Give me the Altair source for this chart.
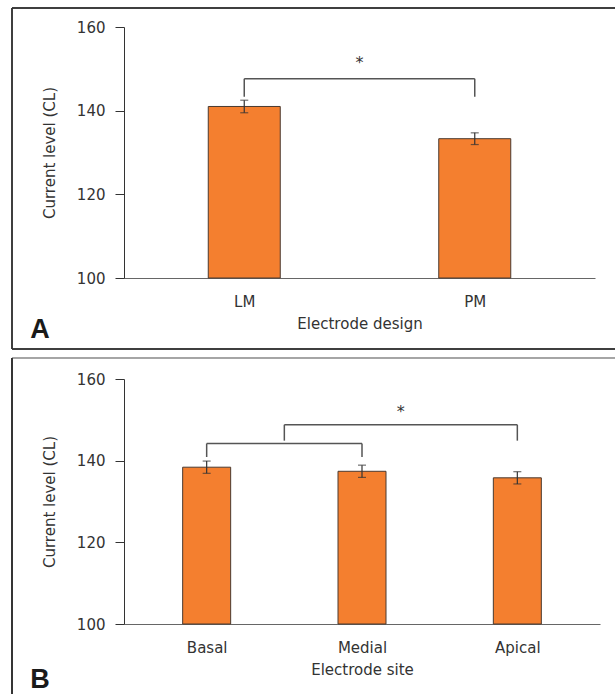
import altair as alt
import pandas as pd

# ---------------- data ----------------
A_labels = ["LM", "PM"]
A_means = [141.0, 133.3]
A_err = [1.5, 1.4]
A_br_x = [1.0, 2.0]          # bracket ends (category positions)
A_br_y = 147.6               # bracket top
A_br_leg = [143.3, 143.3]    # bracket leg bottoms
A_star = [1.5, 151.4]

B_labels = ["Basal", "Medial", "Apical"]
B_means = [138.4, 137.4, 135.8]
B_err = [1.5, 1.5, 1.5]
B_br1_x = [1.0, 2.0]
B_br1_y = 144.2
B_br1_leg = [140.9, 140.9]
B_br2_x = [1.5, 3.0]
B_br2_y = 148.8
B_br2_leg = [144.9, 144.9]
B_star = [2.25, 151.8]

Y_TICKS = [100, 120, 140, 160]

FONT = "DejaVu Sans"
TXT = "#333333"
ORANGE = "#F47F2F"


def make_panel(labels, means, errs, brackets, star, width, height, bar_size,
               letter, letter_y, xtitle, frame_top, frame_bottom, frame_color, frame_w):
    n = len(labels)
    bars = pd.DataFrame({
        "pos": list(range(1, n + 1)),
        "mean": means,
        "lo": [m - e for m, e in zip(means, errs)],
        "hi": [m + e for m, e in zip(means, errs)],
    })
    horiz = pd.DataFrame([{"x": b[0][0], "x2": b[0][1], "y": b[1]} for b in brackets])
    legs = pd.DataFrame([{"x": xv, "y": b[1], "y2": lb}
                         for b in brackets for xv, lb in zip(b[0], b[2])])
    star_df = pd.DataFrame({"x": [star[0]], "y": [star[1]], "t": ["*"]})

    arr = "[" + ",".join("'" + l + "'" for l in labels) + "]"
    xscale = alt.Scale(domain=[0.5, n + 0.5], nice=False, zero=False)
    yscale = alt.Scale(domain=[100, 160], nice=False, zero=False)
    xaxis = alt.Axis(values=list(range(1, n + 1)), labelExpr=arr + "[datum.value-1]",
                     ticks=False, grid=False, title=xtitle, labelPadding=16,
                     titlePadding=7, domainColor="#666666", domainWidth=1.2)
    yaxis = alt.Axis(values=Y_TICKS, grid=False, title="Current level (CL)",
                     tickSize=9, labelPadding=10, titlePadding=19,
                     domainColor="#333333", tickColor="#333333")

    base = alt.Chart(bars)
    bar = base.mark_bar(size=bar_size, color=ORANGE, stroke="#4a3a30", strokeWidth=1).encode(
        x=alt.X("pos:Q", scale=xscale, axis=xaxis),
        y=alt.Y("mean:Q", scale=yscale, axis=yaxis),
        y2=alt.datum(100),
    )
    err = base.mark_rule(color="#333333", strokeWidth=1.2).encode(
        x=alt.X("pos:Q", scale=xscale, axis=xaxis),
        y=alt.Y("lo:Q", scale=yscale, axis=yaxis),
        y2="hi:Q",
    )
    cap_lo = base.mark_tick(orient="horizontal", size=8, thickness=1.2, color="#333333").encode(
        x=alt.X("pos:Q", scale=xscale, axis=xaxis),
        y=alt.Y("lo:Q", scale=yscale, axis=yaxis),
    )
    cap_hi = base.mark_tick(orient="horizontal", size=8, thickness=1.2, color="#333333").encode(
        x=alt.X("pos:Q", scale=xscale, axis=xaxis),
        y=alt.Y("hi:Q", scale=yscale, axis=yaxis),
    )
    br_h = alt.Chart(horiz).mark_rule(color="#555555", strokeWidth=1.5).encode(
        x=alt.X("x:Q", scale=xscale, axis=xaxis), x2="x2:Q",
        y=alt.Y("y:Q", scale=yscale, axis=yaxis),
    )
    br_v = alt.Chart(legs).mark_rule(color="#555555", strokeWidth=1.5).encode(
        x=alt.X("x:Q", scale=xscale, axis=xaxis),
        y=alt.Y("y:Q", scale=yscale, axis=yaxis), y2="y2:Q",
    )
    st = alt.Chart(star_df).mark_text(font="DejaVu Sans", fontSize=16, color=TXT,
                                      baseline="middle").encode(
        x=alt.X("x:Q", scale=xscale, axis=xaxis),
        y=alt.Y("y:Q", scale=yscale, axis=yaxis),
        text="t:N",
    )
    # panel frame and letter (decoration, pixel positions relative to plot area)
    fl, fr = -112, 491
    frame = []
    frame.append(alt.Chart(bars).mark_rule(color=frame_color, strokeWidth=frame_w).encode(
        x=alt.value(fl), x2=alt.value(fr), y=alt.value(frame_top)))
    frame.append(alt.Chart(bars).mark_rule(color="#333333", strokeWidth=1.5).encode(
        x=alt.value(fl), y=alt.value(frame_top), y2=alt.value(frame_bottom)))
    if letter == "A":
        frame.append(alt.Chart(bars).mark_rule(color="#333333", strokeWidth=1.5).encode(
            x=alt.value(fl), x2=alt.value(fr), y=alt.value(frame_bottom)))
    let = alt.Chart(pd.DataFrame({"t": [letter]})).mark_text(
        font="Liberation Sans", fontSize=27, fontWeight="bold", color="#1a1a1a",
        align="center", baseline="alphabetic").encode(
        x=alt.value(-84), y=alt.value(letter_y), text="t:N")

    return alt.layer(bar, err, cap_lo, cap_hi, br_h, br_v, st, let, *frame).properties(
        width=width, height=height)


panel_a = make_panel(A_labels, A_means, A_err, [(A_br_x, A_br_y, A_br_leg)], A_star,
                     471, 251, 72, "A", 311, "Electrode design", -19, 322, "#333333", 1.5)
panel_b = make_panel(B_labels, B_means, B_err,
                     [(B_br1_x, B_br1_y, B_br1_leg), (B_br2_x, B_br2_y, B_br2_leg)], B_star,
                     476, 245, 48, "B", 309, "Electrode site", -21, 315, "#999999", 1.0)

chart = alt.vconcat(panel_a, panel_b, spacing=7).properties(
    padding={"left": 11, "top": 7, "right": 0, "bottom": 0},
    background="white",
).configure_view(stroke=None).configure_axis(
    labelFont=FONT, labelFontSize=15, labelColor=TXT,
    titleFont=FONT, titleFontSize=15, titleFontWeight="normal", titleColor=TXT,
)

chart.save("out.html", embed_options={"renderer": "svg", "actions": False})
